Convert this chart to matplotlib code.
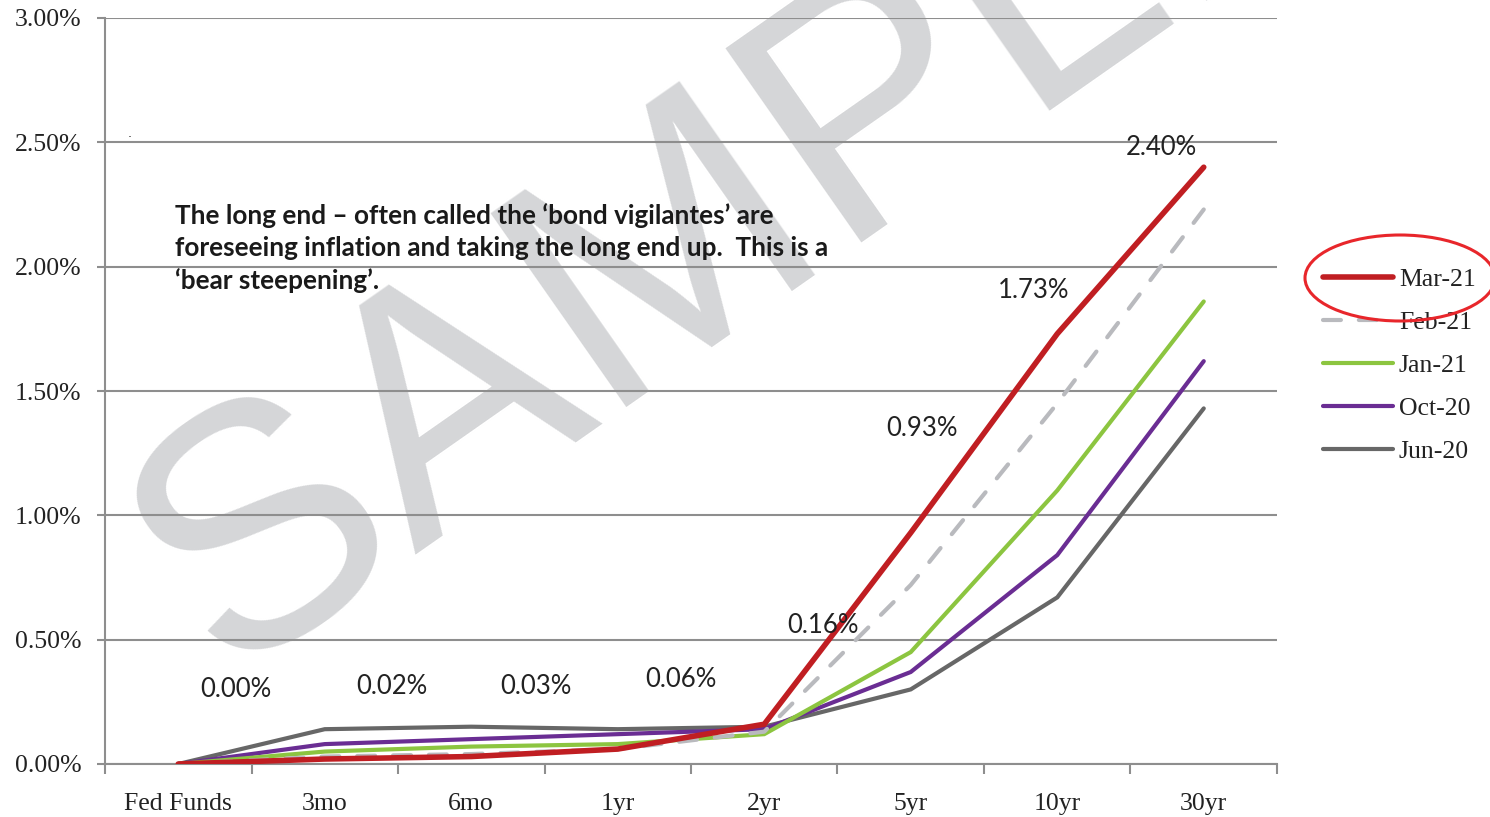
import matplotlib
matplotlib.use("Agg")
import matplotlib.pyplot as plt
from matplotlib.patches import Ellipse
from matplotlib.ticker import FuncFormatter, FixedLocator
import numpy as np

# Treasury yield curve snapshots (%)
tenors = ["Fed Funds", "3mo", "6mo", "1yr", "2yr", "5yr", "10yr", "30yr"]
mar21 = [0.00, 0.02, 0.03, 0.06, 0.16, 0.93, 1.73, 2.40]
feb21 = [0.00, 0.03, 0.04, 0.06, 0.13, 0.72, 1.45, 2.23]
jan21 = [0.00, 0.05, 0.07, 0.08, 0.12, 0.45, 1.10, 1.86]
oct20 = [0.00, 0.08, 0.10, 0.12, 0.14, 0.37, 0.84, 1.62]
jun20 = [0.00, 0.14, 0.15, 0.14, 0.15, 0.30, 0.67, 1.43]
series_names = ["Mar-21", "Feb-21", "Jan-21", "Oct-20", "Jun-20"]
y_ticks = [0.0, 0.5, 1.0, 1.5, 2.0, 2.5, 3.0]

# label placement for the Mar-21 values (x offset in categories, y in %)
label_dx = [0.39, 0.46, 0.44, 0.43, 0.40, 0.08, -0.16, -0.29]
label_y = [0.30, 0.31, 0.31, 0.34, 0.555, 1.35, 1.905, 2.48]

W, H = 1490, 817
fig = plt.figure(figsize=(W / 100, H / 100), dpi=100)
ax = fig.add_axes([105 / W, 1 - 764 / H, (1277 - 105) / W, (764 - 18) / H])

x = np.arange(len(tenors))
grid_c = "#8e8e8e"
serif = "Liberation Serif"

# watermark, underneath the grid and the curves
ax.text(2.25, 1.39, "SAMPLE", transform=fig.dpi_scale_trans, fontsize=248,
        family="Liberation Sans", color="#d5d6d8", rotation=35,
        rotation_mode="anchor", ha="left", va="baseline", zorder=0.2, clip_on=False)

styles = [
    (jun20, "Jun-20", dict(color="#676767", lw=3.0)),
    (oct20, "Oct-20", dict(color="#6a2d93", lw=3.0)),
    (jan21, "Jan-21", dict(color="#8cc540", lw=3.0)),
    (feb21, "Feb-21", dict(color="#b9babe", lw=3.0, dashes=(4.3, 4.3))),
    (mar21, "Mar-21", dict(color="#c01e22", lw=4.0)),
]
handles = {}
for vals, name, kw in styles:
    ln, = ax.plot(x, vals, solid_capstyle="round", dash_capstyle="round",
                  solid_joinstyle="miter", zorder=3, label=name, **kw)
    handles[name] = ln

for i, v in enumerate(mar21):
    ax.text(x[i] + label_dx[i], label_y[i], f"{v:.2f}%", fontsize=18.5,
            family="Lato", color="#222222", ha="center", va="center", zorder=4)

ax.text(-0.022, 2.255,
        "The long end \u2013 often called the \u2018bond vigilantes\u2019 are\n"
        "foreseeing inflation and taking the long end up.  This is a\n"
        "\u2018bear steepening\u2019.",
        fontsize=18.8, family="Lato", fontweight="bold", color="#1a1a1a",
        ha="left", va="top", linespacing=1.38, zorder=4)
ax.text(-0.33, 2.52, ".", fontsize=9, color="#222222", ha="center")

ax.set_xlim(-0.5, 7.5)
ax.set_ylim(0, 3.0)
ax.set_yticks(y_ticks)
ax.yaxis.set_major_formatter(FuncFormatter(lambda v, p: f"{v:.2f}%"))
ax.set_xticks(x)
ax.set_xticklabels(tenors)
ax.xaxis.set_minor_locator(FixedLocator(np.arange(-0.5, 8.0, 1.0)))
ax.tick_params(axis="x", which="major", length=0, pad=21, labelsize=18.5,
               labelcolor="#222222")
ax.tick_params(axis="x", which="minor", length=7, width=1.5, color=grid_c)
ax.tick_params(axis="y", length=6, width=1.5, color=grid_c, pad=11,
               labelsize=18.5, labelcolor="#222222")
for lab in ax.get_xticklabels() + ax.get_yticklabels():
    lab.set_family(serif)

ax.grid(axis="y", color=grid_c, lw=1.5, zorder=0.5)
ax.set_axisbelow(True)
for s in ["top", "right"]:
    ax.spines[s].set_visible(False)
for s in ["left", "bottom"]:
    ax.spines[s].set_color(grid_c)
    ax.spines[s].set_linewidth(1.5)
ax.patch.set_alpha(0)

leg = fig.legend([handles[n] for n in series_names], series_names,
                 loc="upper left", bbox_to_anchor=(1323 / W, 1 - 268 / H),
                 frameon=False, borderpad=0, borderaxespad=0,
                 handlelength=2.72, handletextpad=0.23,
                 labelspacing=0.78, prop={"family": serif, "size": 18.5})
for t in leg.get_texts():
    t.set_color("#222222")

ell = Ellipse((1400 / W, 1 - 278 / H), 190 / W, 86 / H, transform=fig.transFigure,
              fill=False, edgecolor="#e8262b", lw=2.2, zorder=10)
fig.add_artist(ell)

fig.savefig("out.png", dpi=100)
